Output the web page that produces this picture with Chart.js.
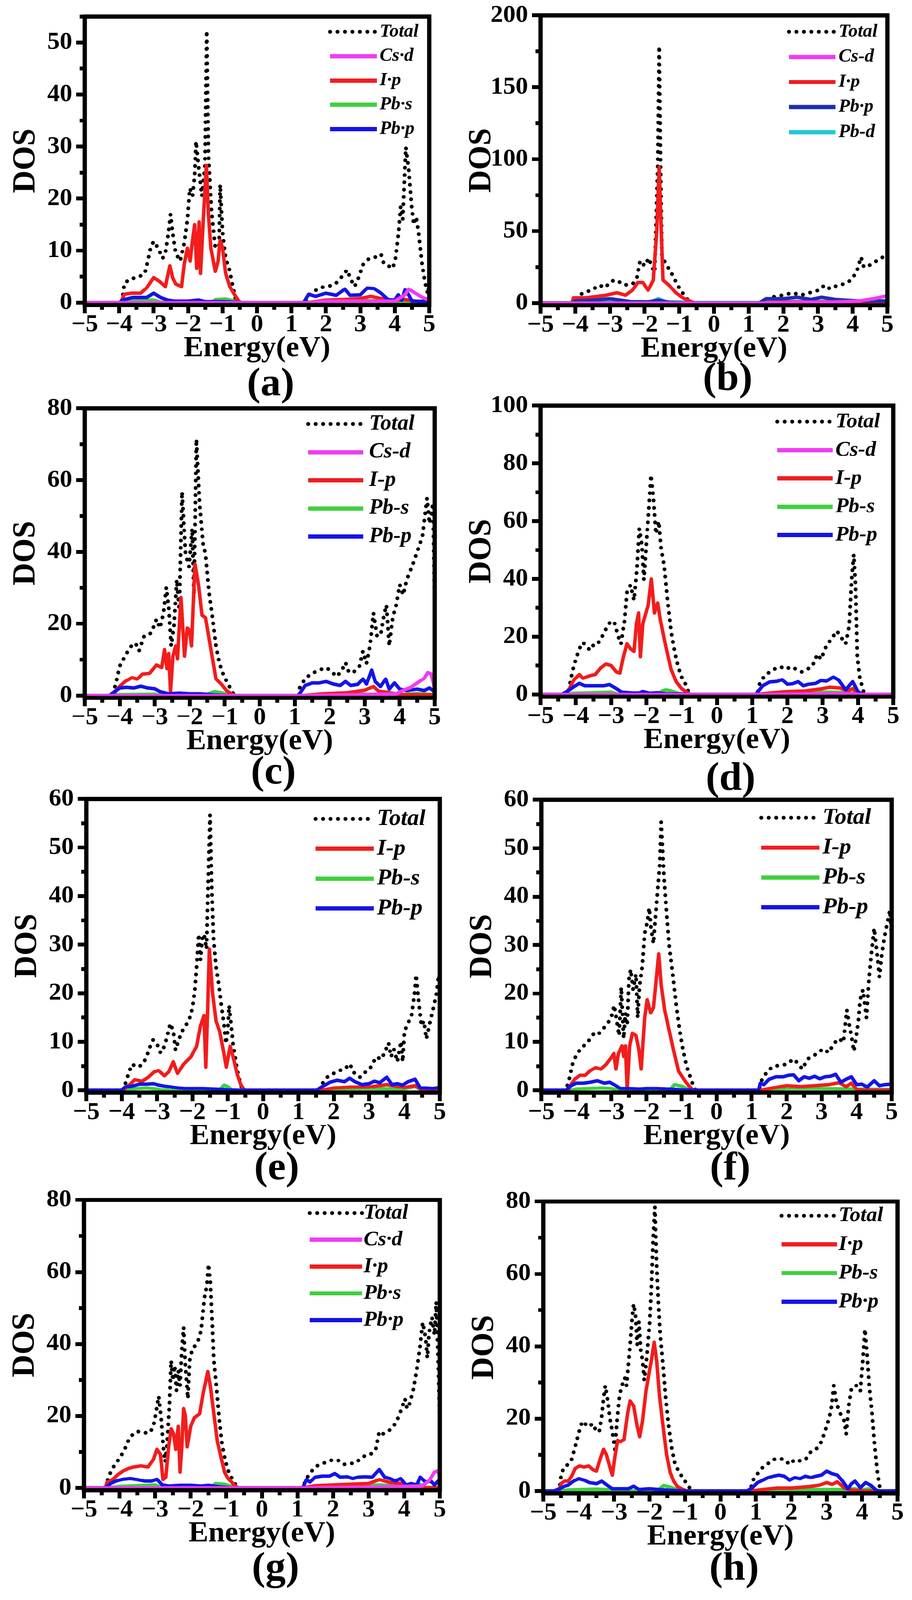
<!DOCTYPE html>
<html><head><meta charset="utf-8">
<script src="https://cdn.jsdelivr.net/npm/chart.js@4.4.1/dist/chart.umd.min.js"></script>
<style>
html,body{margin:0;padding:0;background:#fff;overflow:hidden;}
#stage{position:absolute;left:0;top:0;width:2335px;height:4182px;transform-origin:0 0;background:#fff;}
#stage canvas{position:absolute;}
</style></head><body>
<div id="stage"></div>
<script>
// ---------------- DATA (energy eV, DOS) ----------------
const X_TICKS = [-5,-4.5,-4,-3.5,-3,-2.5,-2,-1.5,-1,-0.5,0,0.5,1,1.5,2,2.5,3,3.5,4,4.5,5];

// panel (a)
const aTot = [[-5,0],[-3.95,0],[-3.91,0.6],[-3.85,3.7],[-3.68,4.6],[-3.47,4.8],[-3.26,5.6],[-3.17,8],[-3.09,10.5],[-3.0,11.8],[-2.87,10.5],[-2.74,8.5],[-2.66,9.5],[-2.57,13.5],[-2.51,17],[-2.45,13.5],[-2.36,9.5],[-2.23,8],[-2.11,11.5],[-2.02,16],[-1.95,22],[-1.87,20.5],[-1.81,24.4],[-1.77,31],[-1.70,26.4],[-1.60,20.5],[-1.51,26.4],[-1.46,52.3],[-1.41,28.4],[-1.32,17.5],[-1.21,10.5],[-1.10,11],[-1.07,22.7],[-1.0,13.5],[-0.91,8.5],[-0.81,6.6],[-0.70,3.1],[-0.62,0.6],[-0.53,0],[1.40,0],[1.47,1.1],[1.64,2.1],[1.81,2.8],[1.98,3.1],[2.19,3.3],[2.36,4.1],[2.53,5.6],[2.62,6.3],[2.70,4.8],[2.83,3.1],[2.91,4.1],[3.09,7.5],[3.26,8.5],[3.47,8.8],[3.60,9.3],[3.68,7.5],[3.81,7.1],[3.94,6.6],[4.02,8.5],[4.11,13.5],[4.17,18.5],[4.23,16],[4.32,29.9],[4.40,25.9],[4.49,18.5],[4.55,15],[4.62,16.5],[4.69,13.5],[4.79,7.5],[4.87,4.1],[4.96,1.6],[5.0,3.6]];
const aCsd = [[-5,0],[1.5,0],[2.0,0.3],[3.0,0.3],[4.0,0.3],[4.3,1.5],[4.4,2.6],[4.6,1.8],[4.8,1.0],[5.0,0.5]];
const aIp = [[-5,0],[-3.97,0],[-3.94,0.3],[-3.85,1.6],[-3.64,1.8],[-3.38,1.8],[-3.21,2.8],[-3.0,4.8],[-2.83,4.1],[-2.66,3.1],[-2.53,7.1],[-2.45,4.8],[-2.36,3.6],[-2.19,3.1],[-2.11,7.5],[-2.02,10.5],[-1.94,8],[-1.89,11],[-1.81,15],[-1.75,6.6],[-1.68,15.5],[-1.64,5.6],[-1.55,17],[-1.47,26.4],[-1.41,17],[-1.34,10.5],[-1.21,6],[-1.13,8],[-1.07,12],[-1.0,10.5],[-0.91,5.6],[-0.79,3.1],[-0.66,1.6],[-0.53,0.3],[-0.45,0],[1.5,0],[2.0,0.5],[2.5,0.6],[3.0,0.8],[3.3,1.2],[3.6,0.8],[4.0,0.4],[4.3,0.6],[4.6,0.3],[5,0.2]];
const aPbs = [[-5,0],[-4.0,0],[-3.8,0.2],[-3.5,0.4],[-3.0,0.5],[-2.8,0.1],[-1.3,0.1],[-1.2,0.6],[-0.9,0.7],[-0.6,0.2],[-0.5,0],[1.4,0],[1.8,0.3],[3.0,0.4],[4.0,0.3],[4.5,0.1],[5,0]];
const aPbp = [[-5,0],[-4.0,0],[-3.9,0.5],[-3.6,1.0],[-3.2,1.0],[-3.0,1.8],[-2.8,1.0],[-2.6,0.5],[-2.4,0.3],[-2.0,0.3],[-1.7,0.5],[-1.5,0.2],[-1.0,0.2],[-0.6,0.1],[-0.5,0],[1.35,0],[1.5,1.6],[1.7,1.2],[2.0,1.8],[2.3,1.4],[2.55,2.6],[2.7,1.4],[3.0,1.5],[3.2,2.8],[3.4,2.7],[3.6,1.8],[3.8,0.6],[4.0,0.5],[4.1,1.5],[4.2,0.5],[4.3,2.5],[4.4,1.5],[4.5,0.3],[5,0.2]];

// panel (b)
const bTot = [[-5,0],[-4.1,0],[-4.05,1],[-3.78,7.1],[-3.52,8.9],[-3.31,12.5],[-3.14,10.7],[-2.97,15.2],[-2.81,16],[-2.59,12.5],[-2.34,13.4],[-2.22,17.9],[-2.13,29.5],[-2.0,25.9],[-1.88,31.3],[-1.79,25],[-1.71,21.4],[-1.62,96],[-1.58,178.6],[-1.54,94.6],[-1.5,32],[-1.37,26.8],[-1.2,19.6],[-1.03,11.6],[-0.86,5.4],[-0.74,1.8],[-0.61,0],[1.33,0],[1.75,4.5],[2.0,5.4],[2.26,7.1],[2.51,5.4],[2.76,7.1],[3.02,8.9],[3.19,12.5],[3.35,9.8],[3.57,12.5],[3.78,13.4],[3.95,16],[4.11,21.4],[4.24,32],[4.32,25],[4.54,26.8],[4.75,30.4],[4.96,33],[5,33]];
const bCsd = [[-5,0],[1.3,0],[2.0,0.5],[3.5,0.8],[4.2,1.5],[4.6,3],[5,5]];
const bIp = [[-5,0],[-4.1,0],[-4.05,3.6],[-3.7,3.6],[-3.4,4.5],[-3.1,5.4],[-2.8,7.1],[-2.55,5.4],[-2.35,8.9],[-2.2,14.3],[-2.05,14.3],[-1.9,8.9],[-1.75,16],[-1.65,50],[-1.58,94.6],[-1.52,50],[-1.47,16],[-1.3,12.5],[-1.1,7.1],[-0.9,3.6],[-0.7,1.4],[-0.55,0],[1.3,0],[2.0,0.8],[3.0,1.0],[4.0,1.0],[5,0.8]];
const bPbp = [[-5,0],[-4.1,0],[-4.0,1.5],[-3.5,2],[-3.0,3],[-2.7,2],[-2.4,1],[-1.9,0.8],[-1.6,2],[-1.3,0.5],[-0.6,0],[1.3,0],[1.5,3],[2.0,3],[2.4,4],[2.8,2.5],[3.1,4],[3.5,2.5],[3.8,2],[4.2,1.5],[5,1.5]];
const bPbd = [[-5,0.3],[-4.1,0.3],[-3.5,1],[-3.0,1.5],[-2.5,0.8],[-1.8,1],[-1.6,3],[-1.4,1],[-0.6,0.4],[1.3,0.4],[2,1],[3,1],[4,1],[5,1]];

// panel (c)
const cTot = [[-5,0],[-4.2,0],[-4.1,3.9],[-4.0,8.2],[-3.85,11],[-3.7,13.5],[-3.55,14.6],[-3.45,12.4],[-3.3,16.7],[-3.1,17.4],[-2.95,21.3],[-2.85,18.8],[-2.75,23],[-2.67,30.1],[-2.6,24.4],[-2.53,13.8],[-2.45,19.5],[-2.37,32.3],[-2.3,23.8],[-2.22,56.8],[-2.12,39.4],[-2.02,35.9],[-1.93,46.5],[-1.88,28],[-1.81,71.4],[-1.72,53.6],[-1.62,42.3],[-1.55,39.4],[-1.45,28.8],[-1.35,21.7],[-1.25,13.8],[-1.15,8.9],[-1.02,5.3],[-0.9,3.2],[-0.8,1.1],[-0.7,0],[1.1,0],[1.15,2.5],[1.3,4.6],[1.45,6],[1.7,7.1],[1.9,7.8],[2.05,6.7],[2.2,5.3],[2.35,7.1],[2.45,9.2],[2.55,6.4],[2.7,6.7],[2.85,8.2],[2.95,12.4],[3.05,8.9],[3.15,13.8],[3.25,23],[3.35,16.7],[3.45,16.7],[3.55,22.4],[3.62,25.2],[3.7,13.8],[3.8,21.7],[3.9,25.2],[4.0,30.9],[4.1,28],[4.2,32.3],[4.35,35.9],[4.5,40.1],[4.65,44.4],[4.78,55],[4.85,47.9],[4.95,53.6],[5.0,25.2]];
const cCsd = [[-5,0],[1.2,0],[3.0,0.3],[3.9,0.5],[4.1,1.5],[4.3,2.2],[4.5,3.5],[4.7,4.8],[4.8,6.4],[4.9,6],[5.0,2]];
const cIp = [[-5,0],[-4.2,0],[-4.05,2.1],[-3.85,3.9],[-3.65,5],[-3.5,4.6],[-3.35,6],[-3.15,6.2],[-2.95,8.5],[-2.8,7.8],[-2.72,12.8],[-2.65,7.5],[-2.6,11.7],[-2.55,1.1],[-2.48,11],[-2.4,13.8],[-2.35,10.3],[-2.25,27.3],[-2.15,11],[-2.07,18.8],[-2.0,18.1],[-1.95,13.8],[-1.85,36.6],[-1.75,30.9],[-1.65,22.4],[-1.55,21.7],[-1.45,16],[-1.35,10.3],[-1.25,4.6],[-1.1,3.2],[-0.95,1.4],[-0.8,0.4],[-0.7,0],[1.2,0],[1.8,0.5],[2.5,0.8],[3.0,1.5],[3.25,2.5],[3.4,1.2],[3.6,1.0],[4.0,0.3],[5,0.2]];
const cPbs = [[-5,0],[-4.2,0],[-4.0,0.3],[-3.0,0.4],[-2.8,0],[-1.6,0.1],[-1.45,0.6],[-1.3,1.1],[-1.1,0.8],[-0.8,0],[1.2,0],[2,0.3],[3,0.4],[4,0.3],[4.5,0.6],[5,0.3]];
const cPbp = [[-5,0],[-4.3,0],[-4.15,1.1],[-4.0,2.1],[-3.8,2.3],[-3.6,2.1],[-3.4,2.6],[-3.2,2.1],[-3.0,1.9],[-2.85,1.1],[-2.6,0.5],[-2.3,0.7],[-2.0,0.5],[-1.7,0.5],[-1.3,0.2],[-0.8,0],[1.1,0],[1.3,2.8],[1.5,3.5],[1.7,3.5],[1.9,3.9],[2.1,3.2],[2.3,2.8],[2.45,3.9],[2.6,2.8],[2.8,3.1],[2.95,4.6],[3.05,3.2],[3.2,7.1],[3.3,3.9],[3.45,2.5],[3.6,4.6],[3.7,1.8],[3.85,3.5],[4.0,1.8],[4.2,1.4],[4.5,1.8],[4.7,1.4],[4.85,2.1],[5.0,1.1]];

// panel (d)
const dTot = [[-5,0],[-4.35,0],[-4.2,1.6],[-4.1,7.8],[-4.0,12.2],[-3.9,15.8],[-3.8,18],[-3.7,16.7],[-3.6,15.3],[-3.5,17.1],[-3.4,17.1],[-3.25,20.2],[-3.1,23.7],[-3.0,25.5],[-2.9,24.6],[-2.8,20.2],[-2.72,17.5],[-2.62,25.5],[-2.55,35.3],[-2.45,37.9],[-2.35,32.6],[-2.27,43.2],[-2.2,57.4],[-2.13,52.1],[-2.07,39.7],[-2.0,52.1],[-1.93,64.5],[-1.87,76],[-1.8,68],[-1.73,55.6],[-1.65,60],[-1.58,50.3],[-1.5,45],[-1.4,32.6],[-1.3,22],[-1.2,14.9],[-1.1,9.6],[-1.0,6],[-0.9,3.8],[-0.8,0.7],[-0.7,0],[1.15,0],[1.2,3.4],[1.35,6.5],[1.5,7.8],[1.65,8.9],[1.8,9.6],[1.95,8.7],[2.1,9.6],[2.25,8.7],[2.4,7.8],[2.55,8.7],[2.7,9.6],[2.85,14],[2.95,12.2],[3.1,16.7],[3.25,19.3],[3.4,22],[3.55,19.3],[3.65,17.5],[3.75,23.7],[3.82,39.7],[3.88,48.5],[3.93,37.9],[3.98,13.1],[4.05,6],[4.15,1.2],[4.25,0],[5,0]];
const dCsd = [[-5,0],[1.1,0],[2.5,0.2],[3.5,0.3],[4.0,0.1],[5,0]];
const dIp = [[-5,0],[-4.35,0],[-4.2,1.6],[-4.05,5.1],[-3.9,6.9],[-3.8,5.6],[-3.6,6.5],[-3.45,6.9],[-3.3,9.1],[-3.15,10.5],[-3.0,10],[-2.85,7.8],[-2.75,7.4],[-2.65,13.1],[-2.55,17.5],[-2.45,15.8],[-2.35,14.9],[-2.28,24.6],[-2.22,28.2],[-2.17,13.1],[-2.1,24.6],[-1.95,30.8],[-1.86,40],[-1.77,28.2],[-1.68,31.7],[-1.6,25.5],[-1.45,16.7],[-1.3,8.7],[-1.15,4.3],[-1.0,2],[-0.85,0.7],[-0.75,0],[1.1,0],[1.5,0.5],[2.0,1.0],[2.5,1.2],[3.0,2.0],[3.2,2.5],[3.5,2.2],[3.7,1.2],[3.85,2],[4.0,0.3],[4.2,0],[5,0]];
const dPbs = [[-5,0],[-4.3,0],[-4.1,0.4],[-3.5,0.6],[-3.0,0.8],[-2.8,0.1],[-1.7,0.1],[-1.55,1.2],[-1.45,1.6],[-1.3,1.2],[-1.1,0.4],[-0.9,0],[1.1,0],[1.5,0.4],[2.5,0.6],[3.2,0.8],[3.8,0.6],[4.0,0],[5,0]];
const dPbp = [[-5,0],[-4.4,0],[-4.25,1.0],[-4.05,2.7],[-3.9,3.8],[-3.75,3.0],[-3.5,3.0],[-3.2,3.0],[-3.05,3.4],[-2.85,2.0],[-2.7,0.8],[-2.4,0.5],[-2.2,0.5],[-2.1,1.0],[-1.9,0.4],[-1.7,0.6],[-1.4,0.2],[-1.0,0.2],[-0.7,0],[1.1,0],[1.3,3],[1.5,4.3],[1.7,4.5],[1.85,5.1],[2.0,3.5],[2.15,3.7],[2.3,4.4],[2.45,3.0],[2.6,3.5],[2.8,3.8],[2.95,4.8],[3.1,4.6],[3.3,6],[3.45,5],[3.65,1.6],[3.85,4.4],[4.0,1.0],[4.1,0.2],[4.3,0],[5,0]];

// panel (e)
const eTot = [[-5,0],[-3.95,0],[-3.875,1.9],[-3.79,3.8],[-3.71,5.4],[-3.54,4.8],[-3.4,5.4],[-3.29,7],[-3.21,8.8],[-3.11,10.4],[-3.0,9.6],[-2.9,7.7],[-2.79,9.1],[-2.71,11.2],[-2.625,13.8],[-2.54,12.2],[-2.475,8.3],[-2.4,10.1],[-2.29,12.2],[-2.19,13.3],[-2.08,14.8],[-2.0,16.9],[-1.93,20.6],[-1.875,25.9],[-1.82,32.2],[-1.77,26.9],[-1.72,31.2],[-1.67,32.2],[-1.6,29.1],[-1.55,43.8],[-1.5,56.7],[-1.45,41.2],[-1.4,31.2],[-1.33,25.4],[-1.25,21.7],[-1.18,17.5],[-1.1,13.3],[-1.05,9.6],[-1.0,12.2],[-0.96,17.5],[-0.9,13.3],[-0.85,9.6],[-0.78,6.4],[-0.72,3.8],[-0.65,1.7],[-0.58,0],[1.6,0],[1.7,1.7],[1.85,3],[2.0,3.5],[2.15,4.1],[2.3,4.3],[2.45,5.5],[2.6,3.3],[2.75,2.7],[2.9,3.8],[3.05,4.8],[3.2,6.9],[3.35,6.4],[3.45,8],[3.55,9.8],[3.62,6.9],[3.7,8.5],[3.8,5.9],[3.9,10.1],[3.95,5.9],[4.0,12.2],[4.1,13.8],[4.2,15.4],[4.28,19.6],[4.33,23.8],[4.4,18.5],[4.48,13.3],[4.55,14.3],[4.62,10.6],[4.7,13.3],[4.8,16.4],[4.9,19.6],[4.97,23.8],[5.0,22.7]];
const eIp = [[-5,0],[-3.95,0],[-3.92,0.3],[-3.77,1.2],[-3.63,2.2],[-3.42,1.9],[-3.25,2.7],[-3.08,3.8],[-2.96,4.1],[-2.79,3],[-2.67,3.8],[-2.54,5.9],[-2.42,3.5],[-2.25,5.4],[-2.04,6.9],[-1.88,9.1],[-1.77,13.3],[-1.67,15.4],[-1.62,4.8],[-1.57,15.9],[-1.52,29.1],[-1.43,20.1],[-1.33,14.3],[-1.23,12.2],[-1.13,8.5],[-1.04,4.8],[-0.93,9.1],[-0.83,6.4],[-0.73,3.3],[-0.63,1.2],[-0.52,0],[1.6,0],[2.0,0.5],[2.5,0.7],[3.0,0.7],[3.5,1.2],[4.0,0.6],[4.3,1.0],[4.5,0.1],[5,0]];
const ePbs = [[-5,0],[-4.0,0],[-3.8,0.3],[-3.3,0.5],[-3.0,0.3],[-2.8,0],[-1.25,0],[-1.1,1.1],[-1.0,0.8],[-0.9,0.2],[-0.8,0],[1.6,0],[2.0,0.3],[3.0,0.4],[4.0,0.3],[4.3,0.8],[4.5,0],[5,0]];
const ePbp = [[-5,0],[-4.05,0],[-4.0,0.1],[-3.9,0.7],[-3.7,0.9],[-3.5,1.3],[-3.3,1.3],[-3.1,1.4],[-2.95,1.1],[-2.8,0.9],[-2.6,0.7],[-2.4,0.5],[-2.2,0.4],[-2.0,0.4],[-1.7,0.4],[-1.4,0.3],[-1.1,0.2],[-0.7,0],[1.5,0],[1.7,0.9],[1.9,1.7],[2.1,2.1],[2.3,1.8],[2.45,2.5],[2.6,1.8],[2.8,1.2],[3.0,1.4],[3.15,1.9],[3.3,1.6],[3.5,2.7],[3.65,1.2],[3.8,1.4],[3.95,1.1],[4.1,1.8],[4.3,2.3],[4.45,0.5],[4.6,0.5],[4.8,0.4],[5.0,0.6]];

// panel (f)
const fTot = [[-5,0],[-4.3,0],[-4.2,2.5],[-4.1,5.7],[-4.0,7.3],[-3.85,8.9],[-3.7,9.7],[-3.55,11.3],[-3.45,12.1],[-3.35,11.8],[-3.25,12.6],[-3.1,13.9],[-3.0,15.2],[-2.92,17.6],[-2.85,14.4],[-2.78,11.3],[-2.72,21.3],[-2.65,10.7],[-2.6,16],[-2.55,13.4],[-2.5,22.9],[-2.45,25],[-2.38,20.8],[-2.3,24],[-2.25,15],[-2.2,21.3],[-2.12,25.6],[-2.05,32.4],[-1.98,34.6],[-1.92,37.7],[-1.87,33.5],[-1.8,30.3],[-1.75,35.1],[-1.68,41.4],[-1.62,46.7],[-1.58,55.4],[-1.5,44.1],[-1.42,36.1],[-1.35,29.8],[-1.25,24],[-1.15,17.6],[-1.05,12.3],[-0.95,8.1],[-0.85,4.9],[-0.75,2.8],[-0.65,0.7],[-0.58,0],[1.2,0],[1.3,2.3],[1.45,3.9],[1.6,4.9],[1.8,5.2],[2.0,5.4],[2.2,6.5],[2.35,5.4],[2.45,4.4],[2.6,6.5],[2.75,7],[2.9,7.8],[3.05,8.6],[3.2,7.8],[3.35,9.7],[3.5,10.7],[3.62,9.9],[3.72,16.6],[3.78,13.9],[3.85,11.3],[3.92,8.1],[3.98,10.7],[4.05,14.4],[4.1,18.7],[4.18,20.8],[4.28,15],[4.35,22.9],[4.42,28.2],[4.5,33.5],[4.55,30.3],[4.6,27.1],[4.65,23.4],[4.72,28.2],[4.8,31.9],[4.95,37.2],[5.0,31.4]];
const fIp = [[-5,0],[-4.22,0],[-4.2,0.7],[-4.05,2.3],[-3.9,3.1],[-3.75,3.1],[-3.6,4.1],[-3.45,4.7],[-3.3,4.4],[-3.15,5.4],[-3.0,6.8],[-2.93,7.6],[-2.87,4.4],[-2.8,7.6],[-2.7,9.2],[-2.65,7],[-2.6,9.2],[-2.55,0.2],[-2.48,9.2],[-2.4,11.8],[-2.3,11.3],[-2.22,8.6],[-2.15,4.4],[-2.05,15],[-1.98,18.7],[-1.88,16],[-1.8,17.1],[-1.72,22.9],[-1.65,28.2],[-1.58,21.8],[-1.48,16.6],[-1.35,12.3],[-1.22,8.1],[-1.08,3.9],[-0.95,2.5],[-0.85,1.5],[-0.72,0.4],[-0.62,0],[1.2,0],[1.6,0.5],[2.0,1.0],[2.4,0.8],[2.8,1.0],[3.2,1.2],[3.5,1.6],[3.7,0.8],[3.85,1.5],[4.0,0.2],[4.2,0],[5,0]];
const fPbs = [[-5,0],[-4.2,0],[-4.0,0.3],[-3.3,0.5],[-3.0,0.4],[-2.8,0],[-1.35,0],[-1.2,1.2],[-1.0,0.9],[-0.8,0.2],[-0.7,0],[1.2,0],[2.0,0.4],[3.0,0.4],[4.0,0.3],[5,0.2]];
const fPbp = [[-5,0],[-4.3,0],[-4.15,1],[-4.0,1.5],[-3.8,1.5],[-3.6,1.7],[-3.4,2],[-3.2,1.5],[-3.05,1.7],[-2.9,1.1],[-2.75,0.4],[-2.5,0.4],[-2.2,0.3],[-2.0,0.4],[-1.7,0.4],[-1.4,0.3],[-1.1,0.2],[-0.7,0],[1.2,0],[1.25,1.5],[1.35,1.2],[1.5,2.3],[1.7,2.8],[1.9,2.8],[2.05,3.1],[2.2,3.2],[2.35,2],[2.5,2.8],[2.65,2.5],[2.8,2.9],[2.95,2.4],[3.1,2.8],[3.25,2.9],[3.4,3.3],[3.55,1.7],[3.7,2.3],[3.85,2.8],[4.0,1.2],[4.15,1.3],[4.3,0.7],[4.5,2],[4.65,1],[4.8,1.2],[5.0,1.3]];

// panel (g)
const gTot = [[-5,0],[-4.4,0],[-4.3,3.3],[-4.2,5.4],[-4.0,8.3],[-3.87,10.4],[-3.75,13.2],[-3.6,15.3],[-3.45,15.7],[-3.3,15.3],[-3.15,15.3],[-3.05,17.1],[-2.97,21.3],[-2.9,25.5],[-2.83,19.2],[-2.77,11.4],[-2.72,7.2],[-2.67,11.4],[-2.6,22.7],[-2.55,35.4],[-2.5,29.8],[-2.45,34],[-2.4,27],[-2.35,32.6],[-2.3,28.4],[-2.25,38.3],[-2.2,44.6],[-2.15,34],[-2.08,24.8],[-2.03,35.4],[-1.96,38.3],[-1.85,40],[-1.75,41.8],[-1.7,44.6],[-1.65,49.5],[-1.6,53.8],[-1.55,55.9],[-1.5,62.2],[-1.45,57.3],[-1.4,46.7],[-1.35,35.4],[-1.28,28.4],[-1.2,19.2],[-1.12,12.1],[-1.02,7.2],[-0.92,4],[-0.82,2.3],[-0.72,0.5],[-0.65,0],[1.15,0],[1.25,2.6],[1.4,4.7],[1.55,6.1],[1.7,6.8],[1.85,7.2],[2.0,7.9],[2.15,7.6],[2.3,6.5],[2.45,6.8],[2.6,6.8],[2.75,7.9],[2.9,9],[3.05,9.3],[3.2,10.7],[3.3,15.7],[3.4,15],[3.55,15.7],[3.7,17.1],[3.85,19.9],[3.95,22.7],[4.02,24.8],[4.08,22],[4.15,23.4],[4.25,27],[4.35,32.6],[4.45,39.7],[4.52,46],[4.6,41.8],[4.65,36.1],[4.7,43.2],[4.78,47.4],[4.85,42.5],[4.9,51.7],[4.95,36.8],[5.0,18.5]];
const gCsd = [[-5,0],[1.2,0],[3.0,0.2],[4.5,0.5],[4.7,2],[4.85,4.4],[4.95,4.8],[5.0,3]];
const gIp = [[-5,0],[-4.4,0],[-4.35,1.6],[-4.2,2.3],[-4.05,3.7],[-3.9,4.7],[-3.75,5.4],[-3.6,5.8],[-3.4,6.1],[-3.2,5.8],[-3.05,7.9],[-2.95,10.7],[-2.85,9.3],[-2.78,2.3],[-2.7,3],[-2.62,11.4],[-2.55,16.4],[-2.48,15],[-2.42,10.7],[-2.35,17.1],[-2.3,4.4],[-2.25,11.4],[-2.2,22],[-2.15,19.9],[-2.1,11.4],[-2.0,17.1],[-1.9,19.5],[-1.75,20.6],[-1.65,26.3],[-1.52,32.3],[-1.45,28.4],[-1.35,20.6],[-1.25,12.8],[-1.15,8.6],[-1.05,4.4],[-0.95,2.6],[-0.85,1.6],[-0.75,0.5],[-0.65,0],[1.15,0],[1.5,0.6],[2.0,0.8],[2.5,1.0],[3.0,1.2],[3.3,2.3],[3.6,1.5],[3.9,1.2],[4.0,0.3],[4.2,0],[5,0]];
const gPbs = [[-5,0],[-4.3,0],[-4.0,0.4],[-3.5,0.6],[-3.0,0.8],[-2.8,0],[-1.45,0],[-1.3,1.2],[-1.05,1.0],[-0.8,0.2],[-0.7,0],[1.15,0],[1.5,0.4],[2.5,0.6],[3.3,0.8],[4.0,0.4],[4.4,1.2],[4.6,0.2],[5,0]];
const gPbp = [[-5,0],[-4.4,0],[-4.25,1.2],[-4.1,1.9],[-3.9,2.4],[-3.7,2.6],[-3.5,2.3],[-3.3,1.9],[-3.1,1.9],[-2.95,2.4],[-2.8,0.8],[-2.6,0.5],[-2.3,0.7],[-2.0,0.7],[-1.7,0.5],[-1.5,0.7],[-1.2,0.3],[-0.8,0],[1.15,0],[1.25,2.3],[1.35,1.6],[1.5,3],[1.7,3.3],[1.9,3.3],[2.05,4],[2.2,3],[2.4,3.1],[2.55,2.6],[2.7,3],[2.9,3.1],[3.1,3],[3.3,5.1],[3.45,3],[3.6,2.6],[3.75,1.9],[3.9,2.6],[4.05,0.8],[4.2,1.2],[4.35,0.7],[4.45,3],[4.6,1.6],[4.75,1.9],[4.85,0.8],[4.95,1.9],[5.0,0.8]];

// panel (h)
const hTot = [[-5,0],[-4.55,0],[-4.5,4.1],[-4.42,6.6],[-4.3,7.3],[-4.2,8.7],[-4.1,12.2],[-4.0,16.1],[-3.92,18.6],[-3.85,19.3],[-3.78,17.9],[-3.7,17.9],[-3.6,18.6],[-3.5,16.4],[-3.42,16.4],[-3.35,20.7],[-3.3,25.6],[-3.25,29.1],[-3.18,24.9],[-3.12,20],[-3.05,16.4],[-2.98,11.5],[-2.92,19.3],[-2.85,26.3],[-2.78,29.1],[-2.7,31.3],[-2.65,29.1],[-2.6,34.8],[-2.55,40.4],[-2.5,46.8],[-2.45,51.7],[-2.4,48.9],[-2.35,40.4],[-2.3,46.8],[-2.25,39],[-2.2,36.2],[-2.15,30.6],[-2.1,34.8],[-2.05,40.4],[-2.0,46.1],[-1.95,56],[-1.9,69.4],[-1.85,78.5],[-1.8,62.3],[-1.75,51.7],[-1.7,43.3],[-1.62,34.8],[-1.55,26.3],[-1.47,18.6],[-1.38,12.2],[-1.28,7.3],[-1.18,5.5],[-1.05,3.4],[-0.95,2],[-0.85,0.6],[-0.75,0],[0.85,0],[0.9,2.7],[1.05,4.8],[1.2,6.6],[1.35,7.6],[1.5,8.7],[1.65,9],[1.8,8.7],[1.95,7.3],[2.1,8.7],[2.25,8.3],[2.4,8.7],[2.55,10.8],[2.7,11.5],[2.85,13.6],[3.0,17.9],[3.12,22.1],[3.2,29.1],[3.28,24.2],[3.35,22.1],[3.42,20.7],[3.5,19.3],[3.55,15.7],[3.62,23.5],[3.7,28.4],[3.8,29.1],[3.88,29.1],[3.95,27.7],[4.02,36.2],[4.08,44.7],[4.14,37.6],[4.2,29.1],[4.28,21.4],[4.35,12.9],[4.43,5.2],[4.5,0.9],[4.55,0],[5,0]];
const hIp = [[-5,0],[-4.55,0],[-4.5,2],[-4.4,2.7],[-4.3,2.7],[-4.2,4.1],[-4.1,6.2],[-3.98,6.9],[-3.85,6.6],[-3.72,6.9],[-3.6,5.9],[-3.5,5.5],[-3.4,8.7],[-3.3,11.5],[-3.22,10.1],[-3.12,6.6],[-3.05,4.4],[-2.98,9.4],[-2.9,14],[-2.82,13.6],[-2.72,14.3],[-2.62,21.4],[-2.55,24.9],[-2.45,23.5],[-2.35,17.9],[-2.28,15],[-2.2,19.3],[-2.1,27.7],[-2.0,33.4],[-1.95,36],[-1.87,41.1],[-1.8,36],[-1.72,26.3],[-1.62,17.9],[-1.52,10.1],[-1.42,5.2],[-1.32,2.7],[-1.22,1.3],[-1.1,0.6],[-0.95,0],[0.85,0],[1.2,0.4],[1.6,0.8],[2.0,0.8],[2.5,1.2],[2.8,1.6],[3.0,2.3],[3.15,1.8],[3.3,2.5],[3.5,0.8],[3.7,0.3],[4.0,0],[5,0]];
const hPbs = [[-5,0],[-4.5,0],[-4.3,0.3],[-3.5,0.5],[-3.0,0.3],[-2.8,0],[-1.8,0],[-1.6,1.5],[-1.4,1.0],[-1.2,0.3],[-1.0,0],[0.85,0],[1.5,0.3],[2.5,0.4],[3.5,0.4],[3.8,0.6],[4.0,0.3],[4.2,0.6],[4.4,0],[5,0]];
const hPbp = [[-5,0],[-4.7,0],[-4.55,0.6],[-4.4,1.3],[-4.3,1.6],[-4.15,2.7],[-4.0,3.4],[-3.85,3],[-3.7,2.3],[-3.5,2],[-3.35,2.7],[-3.2,1.6],[-3.05,0.6],[-2.8,0.6],[-2.6,0.6],[-2.45,1.3],[-2.3,0.4],[-2.0,0.6],[-1.75,0.4],[-1.4,0.2],[-1.0,0],[0.75,0],[0.9,0.9],[1.05,2.3],[1.2,3],[1.35,3.7],[1.5,4.1],[1.65,4.4],[1.8,4.1],[1.95,3],[2.1,3.7],[2.25,3.4],[2.4,4.1],[2.55,3.7],[2.7,4.1],[2.85,4.4],[3.0,5.5],[3.15,4.8],[3.3,4.4],[3.45,2.7],[3.6,0.6],[3.7,2],[3.8,2.7],[3.95,0.9],[4.1,2.3],[4.25,1.5],[4.4,0.2],[4.5,0],[5,0]];

// ---------------- STYLE ----------------
const C_TOT = '#000000', C_CSD = '#f03cf0', C_IP = '#f21d1d', C_PBS = '#3fd03f', C_PBP = '#1414e8', C_PBP_B = '#1c2fb0', C_PBD = '#26c6d8';
const FONT = '"Liberation Serif", "Times New Roman", serif';

const S = (label, data, color, order) => ({label, data, color, order});
const PANELS = [
  {tag:'(a)', L:217, R:1099, T:40, B0:791, yMax:55, yMajor:10, yMinor:5,
   series:[S('Total',aTot,C_TOT,10),S('Cs·d',aCsd,C_CSD,1),S('I·p',aIp,C_IP,3),S('Pb·s',aPbs,C_PBS,4),S('Pb·p',aPbp,C_PBP,2)],
   leg:{dy:40,gap:63.5,textR:127,sampL:254,sampR:134,font:48}, tagDy:209},
  {tag:'(b)', L:1384, R:2272, T:37, B0:792, yMax:200, yMajor:50, yMinor:25,
   series:[S('Total',bTot,C_TOT,10),S('Cs-d',bCsd,C_CSD,1),S('I·p',bIp,C_IP,3),S('Pb·p',bPbp,C_PBP_B,2),S('Pb-d',bPbd,C_PBD,4)],
   leg:{dy:43,gap:65.5,textR:125,sampL:252,sampR:133,font:48}, tagDy:194},
  {tag:'(c)', L:217, R:1113, T:1064, B0:1818, yMax:80, yMajor:20, yMinor:10,
   series:[S('Total',cTot,C_TOT,10),S('Cs-d',cCsd,C_CSD,1),S('I-p',cIp,C_IP,3),S('Pb-s',cPbs,C_PBS,4),S('Pb-p',cPbp,C_PBP,2)],
   leg:{dy:41,gap:73.5,textR:168,sampL:324,sampR:183,font:56}, tagDy:197},
  {tag:'(d)', L:1384, R:2287, T:1057, B0:1815, yMax:100, yMajor:20, yMinor:10,
   series:[S('Total',dTot,C_TOT,10),S('Cs-d',dCsd,C_CSD,1),S('I-p',dIp,C_IP,3),S('Pb-s',dPbs,C_PBS,4),S('Pb-p',dPbp,C_PBP,2)],
   leg:{dy:42,gap:74,textR:148,sampL:297,sampR:155,font:55}, tagDy:216},
  {tag:'(e)', L:221, R:1126, T:2085, B0:2850, yMax:60, yMajor:10, yMinor:5,
   series:[S('Total',eTot,C_TOT,10),S('I-p',eIp,C_IP,3),S('Pb-s',ePbs,C_PBS,4),S('Pb-p',ePbp,C_PBP,2)],
   leg:{dy:52,gap:78,textR:161,sampL:318,sampR:169,font:60}, tagDy:199},
  {tag:'(f)', L:1386, R:2283, T:2087, B0:2850, yMax:60, yMajor:10, yMinor:5,
   series:[S('Total',fTot,C_TOT,10),S('I-p',fIp,C_IP,3),S('Pb-s',fPbs,C_PBS,4),S('Pb-p',fPbp,C_PBP,2)],
   leg:{dy:47,gap:78,textR:177,sampL:334,sampR:185,font:60}, tagDy:199},
  {tag:'(g)', L:215, R:1126, T:3133, B0:3889, yMax:80, yMajor:20, yMinor:10,
   series:[S('Total',gTot,C_TOT,10),S('Cs·d',gCsd,C_CSD,1),S('I·p',gIp,C_IP,3),S('Pb·s',gPbs,C_PBS,4),S('Pb·p',gPbp,C_PBP,2)],
   leg:{dy:34,gap:70,textR:195,sampL:333,sampR:199,font:55}, tagDy:206},
  {tag:'(h)', L:1391, R:2298, T:3137, B0:3897, yMax:80, yMajor:20, yMinor:10,
   series:[S('Total',hTot,C_TOT,10),S('I·p',hIp,C_IP,3),S('Pb-s',hPbs,C_PBS,4),S('Pb·p',hPbp,C_PBP,2)],
   leg:{dy:37,gap:75,textR:151,sampL:297,sampR:155,font:55}, tagDy:199}
];

const PAGE_W = 2335, PAGE_H = 4182;
const Y_AXIS_W = 215, X_AXIS_H = 160, PAD_T = 45, PAD_R = 40, PAD_B = 120, ZERO_OFF = 6;
const DOT_DASH = [0.1, 19];
const FRAME_W = 11, TICK_W = 10, MAJOR_LEN = 22, MINOR_LEN = 13;

// fit the 2335x4182 figure into whatever viewport the browser actually provides
const stage = document.getElementById('stage');
(function fitStage() {
  const vw = window.innerWidth || PAGE_W, vh = window.innerHeight || PAGE_H;
  const sx = vw / PAGE_W, sy = vh / PAGE_H;
  if (Math.abs(sx - 1) > 0.002 || Math.abs(sy - 1) > 0.002) {
    stage.style.transform = `scale(${sx}, ${sy})`;
  }
})();

const panelDecor = {
  id: 'panelDecor',
  afterDatasetsDraw(chart) {
    const {ctx, chartArea: {left, top, right, bottom}} = chart;
    ctx.save();
    ctx.strokeStyle = '#000'; ctx.lineWidth = FRAME_W;
    ctx.strokeRect(left, top, right - left, bottom - top);
    ctx.restore();
  },
  afterDraw(chart, args, o) {
    const {ctx, chartArea: {left, top, right, bottom}} = chart;
    const xs = chart.scales.x, ys = chart.scales.y;
    ctx.save();
    ctx.strokeStyle = '#000'; ctx.lineWidth = TICK_W; ctx.lineCap = 'butt';
    ctx.beginPath();
    xs.ticks.forEach(t => {
      if (!Number.isInteger(t.value)) {
        const px = xs.getPixelForValue(t.value);
        ctx.moveTo(px, bottom); ctx.lineTo(px, bottom + MINOR_LEN);
      }
    });
    ys.ticks.forEach(t => {
      if (Math.abs(t.value % o.yMajor) > 1e-9) {
        const py = ys.getPixelForValue(t.value);
        ctx.moveTo(left, py); ctx.lineTo(left - MINOR_LEN, py);
      }
    });
    ctx.stroke();
    chart.data.datasets.forEach((ds, i) => {
      const y = top + o.leg.dy + i * o.leg.gap;
      const dotted = ds.borderDash && ds.borderDash.length > 0;
      ctx.beginPath();
      ctx.moveTo(right - o.leg.sampL, y);
      ctx.lineTo(right - o.leg.sampR, y);
      ctx.strokeStyle = ds.borderColor;
      ctx.lineWidth = dotted ? 10 : 11;
      ctx.lineCap = dotted ? 'round' : 'butt';
      ctx.setLineDash(dotted ? DOT_DASH : []);
      ctx.stroke();
      ctx.setLineDash([]);
      ctx.fillStyle = '#000';
      ctx.font = `italic bold ${o.leg.font}px ${FONT}`;
      ctx.textAlign = 'left'; ctx.textBaseline = 'middle';
      ctx.fillText(ds.label, right - o.leg.textR, y);
    });
    ctx.fillStyle = '#000';
    ctx.font = `bold 104px ${FONT}`;
    ctx.textAlign = 'center'; ctx.textBaseline = 'middle';
    ctx.fillText(o.tag, (left + right) / 2 + 35, bottom + o.tagDy);
    ctx.restore();
  }
};

const fmtX = v => (v < 0 ? '\u2212' + Math.abs(v) : String(v));

PANELS.forEach(p => {
  const B = p.B0 + ZERO_OFF;
  const cw = (p.R - p.L) + Y_AXIS_W + PAD_R;
  const ch = PAD_T + (B - p.T) + X_AXIS_H + PAD_B;
  const cv = document.createElement('canvas');
  cv.width = cw; cv.height = ch;
  cv.style.left = (p.L - Y_AXIS_W) + 'px';
  cv.style.top = (p.T - PAD_T) + 'px';
  cv.style.width = cw + 'px'; cv.style.height = ch + 'px';
  stage.appendChild(cv);
  const yMin = -p.yMax * ZERO_OFF / (p.B0 - p.T);
  const yTicks = [];
  for (let v = 0; v <= p.yMax + 1e-9; v += p.yMinor) yTicks.push(v);
  const isMajorY = v => Math.abs(v % p.yMajor) < 1e-9 && v >= 0;

  const datasets = p.series.map(s => {
    const dotted = s.color === C_TOT;
    return {
      label: s.label,
      data: s.data.map(([x, y]) => ({x, y})),
      borderColor: s.color,
      backgroundColor: s.color,
      borderWidth: dotted ? 10 : 9,
      borderDash: dotted ? DOT_DASH : [],
      borderCapStyle: 'round',
      borderJoinStyle: 'round',
      pointRadius: 0,
      fill: false,
      tension: 0,
      order: s.order
    };
  });

  new Chart(cv, {
    type: 'line',
    data: {datasets},
    options: {
      responsive: false, animation: false, devicePixelRatio: 1,
      layout: {padding: {left: 0, top: PAD_T, right: PAD_R, bottom: PAD_B}},
      plugins: {legend: {display: false}, tooltip: {enabled: false}, title: {display: false},
        panelDecor: {tag: p.tag, leg: p.leg, tagDy: p.tagDy, yMajor: p.yMajor}},
      scales: {
        x: {
          type: 'linear', min: -5, max: 5,
          afterBuildTicks: s => { s.ticks = X_TICKS.map(v => ({value: v})); },
          afterFit: s => { s.height = X_AXIS_H; },
          grid: {display: true, drawOnChartArea: false, drawTicks: true, tickLength: MAJOR_LEN, tickWidth: TICK_W,
            tickColor: c => (c.tick && Number.isInteger(c.tick.value)) ? '#000' : 'rgba(0,0,0,0)', lineWidth: TICK_W, color: '#000'},
          border: {display: false},
          ticks: {autoSkip: false, maxRotation: 0, minRotation: 0, padding: -8, color: '#000',
            font: {family: FONT, weight: 'bold', size: 64},
            callback: v => Number.isInteger(v) ? fmtX(v) : ''},
          title: {display: true, text: 'Energy(eV)', color: '#000', padding: {top: 0, bottom: 0},
            font: {family: FONT, weight: 'bold', size: 76}}
        },
        y: {
          type: 'linear', min: yMin, max: p.yMax,
          afterBuildTicks: s => { s.ticks = yTicks.map(v => ({value: v})); },
          afterFit: s => { s.width = Y_AXIS_W; },
          grid: {display: true, drawOnChartArea: false, drawTicks: true, tickLength: MAJOR_LEN, tickWidth: TICK_W,
            tickColor: c => (c.tick && isMajorY(c.tick.value)) ? '#000' : 'rgba(0,0,0,0)', lineWidth: TICK_W, color: '#000'},
          border: {display: false},
          ticks: {autoSkip: false, padding: 10, color: '#000',
            font: {family: FONT, weight: 'bold', size: 64},
            callback: v => isMajorY(v) ? String(v) : ''},
          title: {display: true, text: 'DOS', color: '#000', padding: {top: 16, bottom: 0},
            font: {family: FONT, weight: 'bold', size: 82}}
        }
      }
    },
    plugins: [panelDecor]
  });
});
</script>
</body></html>
